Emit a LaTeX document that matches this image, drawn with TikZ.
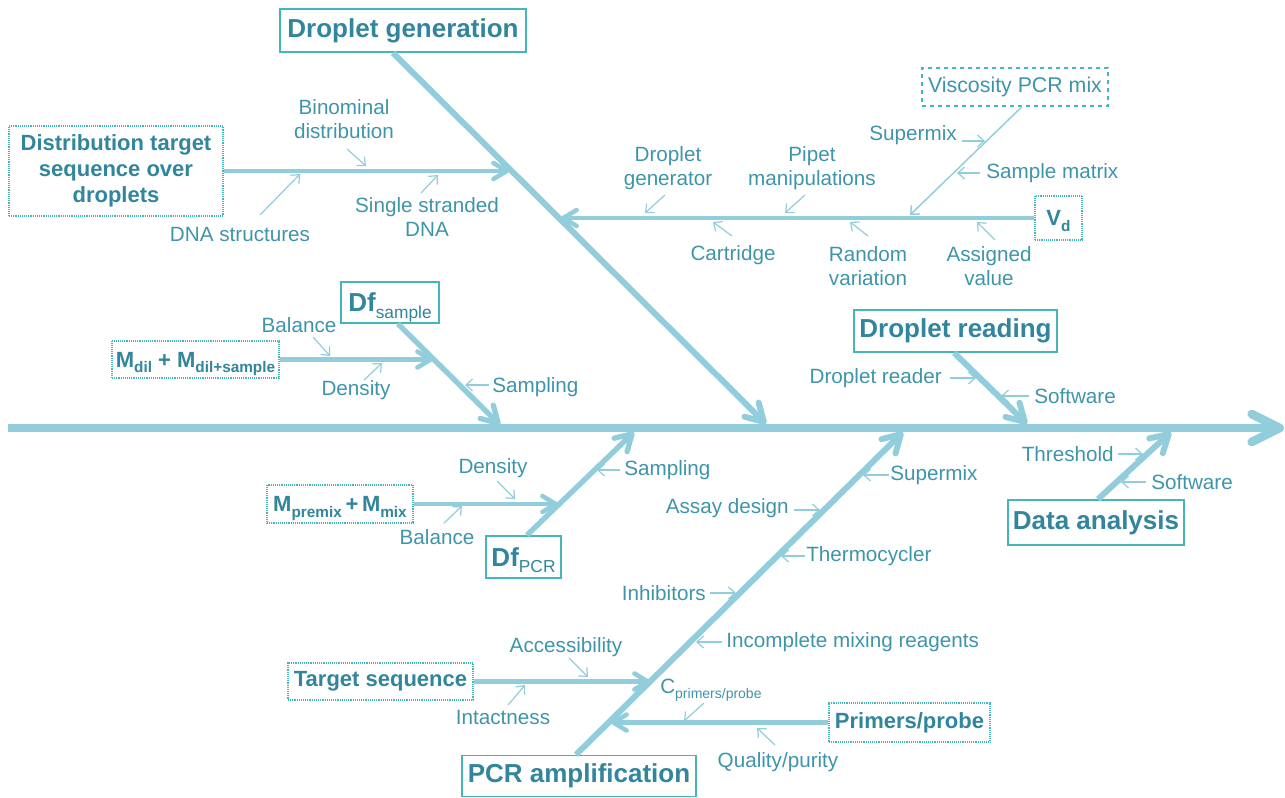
\documentclass[tikz,border=0pt]{standalone}
\usepackage{fontspec}
\setmainfont{Liberation Sans}
\usetikzlibrary{arrows.meta}
\definecolor{linec}{HTML}{92CDDC}
\definecolor{headc}{HTML}{31859C}
\definecolor{labc}{HTML}{3E95AA}
\definecolor{boxc}{HTML}{45B7BA}
\newcommand{\lsub}[2]{\raisebox{-0.25em}[0pt][0pt]{\fontsize{#1}{#1}\selectfont #2}}
\tikzset{
  headbox/.style={draw=boxc, line width=1.3pt, fill=white, inner sep=0pt, align=center,
    text=headc, font=\fontsize{19.5}{22}\selectfont\bfseries},
  subbox/.style={draw=boxc, line width=0.9pt, dash pattern=on 0.7pt off 0.7pt, fill=white, inner sep=0pt, align=center,
    text=headc, font=\fontsize{16.5}{19.5}\selectfont\bfseries},
  lab/.style={text=labc, font=\fontsize{15.5}{18}\selectfont, inner sep=0pt, align=center},
  spine/.style={draw=linec, line width=6.5pt, -{Straight Barb[length=21pt,width=21pt,round]}},
  bigbr/.style={draw=linec, line width=4.5pt, -{Straight Barb[length=13pt,width=15pt,round]}},
  dfbr/.style={draw=linec, line width=4pt, -{Straight Barb[length=12pt,width=14pt,round]}},
  subbr/.style={draw=linec, line width=3.4pt, -{Straight Barb[length=10pt,width=12pt,round]}},
  thinar/.style={draw=linec, line width=0.9pt, -{Straight Barb[length=5pt,width=9pt]}},
}
\begin{document}
\begin{tikzpicture}[x=0.75pt,y=-0.75pt]
\useasboundingbox (0,0) rectangle (1285,797);

% ---------------- spine
\coordinate (s0) at (8,428);
\coordinate (s1) at (1284,428);
\draw[spine] (s0) -- (s1);

% ---------------- boxes
\node[headbox, minimum width=246*0.75pt, minimum height=43*0.75pt] (dg) at (403,30.5) {Droplet generation};
\node[subbox, minimum width=214*0.75pt, minimum height=90*0.75pt] (dist) at (116,171) {Distribution target\\sequence over\\droplets};
\node[draw=boxc, line width=1pt, dashed, inner sep=0pt, text=labc, font=\fontsize{16}{18}\selectfont,
      minimum width=186*0.75pt, minimum height=38*0.75pt] (visc) at (1015,87) {Viscosity PCR mix};
\node[subbox, minimum width=47*0.75pt, minimum height=44*0.75pt] (vd) at (1058.5,218) {V\lsub{11.5}{d}};
\node[headbox, font=\fontsize{19.5}{22}\selectfont\bfseries, minimum width=98*0.75pt, minimum height=41*0.75pt] (dfs) at (390,302.5) {Df\lsub{13}{\mdseries sample}};
\node[subbox, minimum width=167*0.75pt, minimum height=37*0.75pt] (mdil) at (195.5,359.5) {M\lsub{11.5}{dil} + M\lsub{11.5}{dil+sample}};
\node[headbox, minimum width=203*0.75pt, minimum height=42*0.75pt] (dr) at (955.5,331) {Droplet reading};
\node[subbox, minimum width=146*0.75pt, minimum height=38*0.75pt] (mpre) at (340,504) {M\lsub{11.5}{premix}\,+\,M\lsub{11.5}{mix}};
\node[headbox, font=\fontsize{19.5}{22}\selectfont\bfseries, minimum width=75*0.75pt, minimum height=42*0.75pt] (dfp) at (523.5,557) {Df\lsub{13}{\mdseries PCR}};
\node[headbox, minimum width=176*0.75pt, minimum height=45*0.75pt] (da) at (1096,522.5) {Data analysis};
\node[subbox, minimum width=185*0.75pt, minimum height=37*0.75pt] (ts) at (380.5,681.5) {Target sequence};
\node[subbox, minimum width=161*0.75pt, minimum height=39*0.75pt] (pp) at (909.5,722.5) {Primers/probe};
\node[headbox, minimum width=234*0.75pt, minimum height=41*0.75pt] (pcr) at (579,776) {PCR amplification};

% ---------------- main branch tips
\coordinate (dgT) at (766,424);
\coordinate (distT) at (509,171);
\coordinate (vdT) at (561,218);
\coordinate (viscT) at (910,215);
\coordinate (dfsT) at (500,425);
\coordinate (mdilT) at (433,359.5);
\coordinate (drT) at (1027,424);
\coordinate (daT) at (1171,432);
\coordinate (pcrT) at (903,432);
\coordinate (dfpT) at (634,432);
\coordinate (mpreT) at (558,504);
\coordinate (tsT) at (650,681.5);
\coordinate (ppT) at (611,722.5);

\draw[bigbr] ([xshift=-7.5pt]dg.south) -- (dgT);
\draw[subbr] (dist.east) -- (distT);
\draw[subbr] (vd.west) -- (vdT);
\draw[thinar, line width=1.1pt] ([xshift=5.25pt]visc.south) -- (viscT);
\draw[dfbr] ([xshift=6pt]dfs.south) -- (dfsT);
\draw[subbr] (mdil.east) -- (mdilT);
\draw[bigbr] ([xshift=-1pt]dr.south) -- (drT);
\draw[bigbr] ([xshift=1.5pt]da.north) -- (daT);
\draw[bigbr] ([xshift=-2.25pt]pcr.north) -- (pcrT);
\draw[dfbr] ([xshift=2.6pt]dfp.north) -- (dfpT);
\draw[subbr] (mpre.east) -- (mpreT);
\draw[subbr] (ts.east) -- (tsT);
\draw[subbr] (pp.west) -- (ppT);

% ---------------- labels
\node[lab] (l1) at (344,119) {Binominal\\distribution};
\node[lab] (l2) at (240,234) {DNA structures};
\node[lab] (l3) at (427,217) {Single stranded\\DNA};
\node[lab] (l4) at (668,168) {Droplet\\generator};
\node[lab] (l5) at (812,168) {Pipet\\manipulations};
\node[lab] (l6) at (733,255) {Cartridge};
\node[lab] (l7) at (868,266) {Random\\variation};
\node[lab] (l8) at (989,266) {Assigned\\value};
\node[lab, anchor=east] (l9) at (957,135) {Supermix};
\node[lab, anchor=west] (l10) at (986,173) {Sample matrix};
\node[lab] (l11) at (299,325) {Balance};
\node[lab] (l12) at (356,390) {Density};
\node[lab, anchor=west] (l13) at (492,387) {Sampling};
\node[lab, anchor=east] (l14) at (942,378) {Droplet reader};
\node[lab, anchor=west] (l15) at (1034,396) {Software};
\node[lab, anchor=east] (l16) at (1114,454) {Threshold};
\node[lab, anchor=west] (l17) at (1151,482) {Software};
\node[lab, anchor=west] (l18) at (890,475) {Supermix};
\node[lab, anchor=east] (l19) at (789,508) {Assay design};
\node[lab, anchor=west] (l20) at (806,556) {Thermocycler};
\node[lab, anchor=east] (l21) at (706,593) {Inhibitors};
\node[lab, anchor=west] (l22) at (726,642) {Incomplete mixing reagents};
\node[lab] (l23) at (566,647) {Accessibility};
\node[lab] (l24) at (503,717) {Intactness};
\node[lab, anchor=west] (l25) at (660,686) {C\lsub{10.5}{primers/probe}};
\node[lab] (l26) at (778,762) {Quality/purity};
\node[lab] (l27) at (493,468) {Density};
\node[lab] (l28) at (437,537) {Balance};
\node[lab, anchor=west] (l29) at (624,470) {Sampling};

% ---------------- small arrows
\foreach \a/\b in {
  {347,149}/{366,166}, {260,215}/{300,174}, {421,193}/{438,175},
  {665,195}/{645,213}, {805,195}/{785,213}, {732,236}/{713,222},
  {868,236}/{850,222}, {995,240}/{977,222},
  {962,141}/{985,141}, {980,173}/{957,173},
  {313,337}/{330,356}, {364,380}/{382,363}, {489,385}/{465,385},
  {950,378}/{976,378}, {1029,396}/{1001,396},
  {1118,454}/{1143,454}, {1146,482}/{1121,482},
  {889,475}/{863,475}, {794,510}/{820,510}, {805,556}/{781,556},
  {710,593}/{736,593}, {722,642}/{696,642},
  {569,658}/{588,677}, {508,705}/{525,685}, {704,703}/{684,721},
  {775,745}/{757,728}, {497,481}/{515,499}, {444,523}/{462,506},
  {620,470}/{597,470}}
  \draw[thinar] (\a) -- (\b);
\end{tikzpicture}
\end{document}
